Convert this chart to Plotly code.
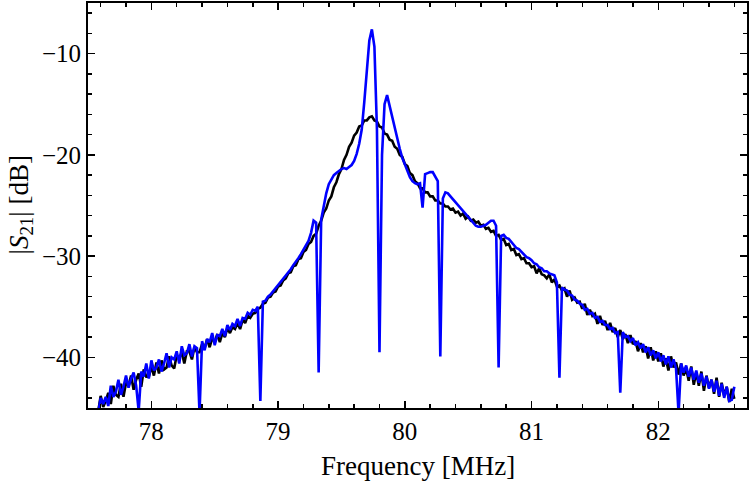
import plotly.graph_objects as go

# Sweep frequencies (MHz)
freq_mhz = [
    77.58, 77.60, 77.62, 77.64, 77.66, 77.68, 77.70, 77.72, 77.74, 77.76,
    77.78, 77.80, 77.82, 77.84, 77.86, 77.88, 77.90, 77.92, 77.94, 77.96,
    77.98, 78.00, 78.02, 78.04, 78.06, 78.08, 78.10, 78.12, 78.14, 78.16,
    78.18, 78.20, 78.22, 78.24, 78.26, 78.28, 78.30, 78.32, 78.34, 78.36,
    78.38, 78.40, 78.42, 78.44, 78.46, 78.48, 78.50, 78.52, 78.54, 78.56,
    78.58, 78.60, 78.62, 78.64, 78.66, 78.68, 78.70, 78.72, 78.74, 78.76,
    78.78, 78.80, 78.82, 78.84, 78.86, 78.88, 78.90, 78.92, 78.94, 78.96,
    78.98, 79.00, 79.02, 79.04, 79.06, 79.08, 79.10, 79.12, 79.14, 79.16,
    79.18, 79.20, 79.22, 79.24, 79.26, 79.28, 79.30, 79.32, 79.34, 79.36,
    79.38, 79.40, 79.42, 79.44, 79.46, 79.48, 79.50, 79.52, 79.54, 79.56,
    79.58, 79.60, 79.62, 79.64, 79.66, 79.68, 79.70, 79.72, 79.74, 79.76,
    79.78, 79.80, 79.82, 79.84, 79.86, 79.88, 79.90, 79.92, 79.94, 79.96,
    79.98, 80.00, 80.02, 80.04, 80.06, 80.08, 80.10, 80.12, 80.14, 80.16,
    80.18, 80.20, 80.22, 80.24, 80.26, 80.28, 80.30, 80.32, 80.34, 80.36,
    80.38, 80.40, 80.42, 80.44, 80.46, 80.48, 80.50, 80.52, 80.54, 80.56,
    80.58, 80.60, 80.62, 80.64, 80.66, 80.68, 80.70, 80.72, 80.74, 80.76,
    80.78, 80.80, 80.82, 80.84, 80.86, 80.88, 80.90, 80.92, 80.94, 80.96,
    80.98, 81.00, 81.02, 81.04, 81.06, 81.08, 81.10, 81.12, 81.14, 81.16,
    81.18, 81.20, 81.22, 81.24, 81.26, 81.28, 81.30, 81.32, 81.34, 81.36,
    81.38, 81.40, 81.42, 81.44, 81.46, 81.48, 81.50, 81.52, 81.54, 81.56,
    81.58, 81.60, 81.62, 81.64, 81.66, 81.68, 81.70, 81.72, 81.74, 81.76,
    81.78, 81.80, 81.82, 81.84, 81.86, 81.88, 81.90, 81.92, 81.94, 81.96,
    81.98, 82.00, 82.02, 82.04, 82.06, 82.08, 82.10, 82.12, 82.14, 82.16,
    82.18, 82.20, 82.22, 82.24, 82.26, 82.28, 82.30, 82.32, 82.34, 82.36,
    82.38, 82.40, 82.42, 82.44, 82.46, 82.48, 82.50, 82.52, 82.54, 82.56,
    82.58, 82.60,
]

# Black trace |S21| (dB)
s21_black_db = [
    -45.4, -43.8, -44.9, -44.3, -43.5, -44.6, -42.8, -43.7, -43.9, -42.6,
    -43.9, -42.5, -42.8, -41.8, -43.2, -42.2, -41.6, -42.9, -41.2, -41.9,
    -41.9, -40.9, -41.8, -40.5, -41.6, -40.3, -41.2, -41.0, -39.9, -40.8,
    -41.1, -39.8, -40.1, -39.5, -40.6, -39.4, -39.4, -40.2, -39.0, -39.5,
    -39.5, -38.7, -39.1, -38.2, -39.0, -38.1, -38.5, -37.7, -38.5, -37.6,
    -38.0, -37.1, -37.6, -37.0, -37.2, -36.6, -37.2, -36.3, -36.6, -35.9,
    -36.1, -35.7, -35.6, -35.2, -35.1, -34.7, -34.6, -34.1, -34.0, -33.6,
    -33.5, -33.0, -32.9, -32.4, -32.2, -31.7, -31.6, -31.0, -30.9, -30.3,
    -30.2, -29.6, -29.4, -28.8, -28.6, -28.0, -27.8, -27.0, -26.5, -25.7,
    -25.3, -24.5, -24.1, -23.2, -22.7, -21.9, -21.4, -20.5, -20.0, -19.2,
    -18.8, -18.1, -17.8, -17.2, -17.1, -16.6, -16.6, -16.3, -16.2, -16.6,
    -16.7, -17.2, -17.3, -17.9, -18.0, -18.5, -18.6, -19.2, -19.4, -20.0,
    -20.2, -20.9, -21.1, -21.8, -22.0, -22.6, -22.8, -23.3, -23.3, -23.7,
    -23.7, -24.1, -24.1, -24.5, -24.5, -24.8, -24.8, -25.1, -25.1, -25.4,
    -25.3, -25.7, -25.6, -26.0, -25.8, -26.3, -26.1, -26.5, -26.4, -26.7,
    -26.6, -27.0, -26.9, -27.3, -27.2, -27.6, -27.5, -28.0, -27.9, -28.4,
    -28.3, -28.9, -28.8, -29.4, -29.3, -29.9, -29.8, -30.3, -30.2, -30.7,
    -30.7, -31.1, -31.0, -31.7, -31.2, -31.8, -31.9, -32.2, -31.8, -32.6,
    -32.3, -33.0, -32.9, -33.4, -33.2, -34.0, -33.4, -34.3, -34.1, -34.6,
    -34.5, -35.2, -34.7, -35.8, -35.3, -35.9, -35.7, -36.7, -35.9, -36.8,
    -36.4, -37.3, -36.6, -37.5, -37.1, -38.0, -37.3, -38.2, -37.7, -38.6,
    -37.8, -38.7, -38.4, -39.4, -38.6, -39.5, -38.9, -40.1, -39.0, -40.3,
    -39.4, -40.4, -39.6, -40.9, -40.1, -41.3, -39.9, -41.0, -40.5, -41.7,
    -40.6, -41.8, -41.1, -42.3, -40.9, -42.7, -41.5, -42.8, -41.4, -43.3,
    -41.8, -43.0, -42.2, -43.6, -42.0, -43.9, -42.5, -43.8, -42.9, -44.4,
    -43.1, -44.1,
]

# Blue trace |S21| (dB)
s21_blue_db = [
    -45.5, -44.0, -44.6, -43.9, -44.8, -42.8, -43.9, -43.4, -42.2, -43.7,
    -42.9, -41.8, -43.0, -42.1, -41.5, -42.8, -45.3, -41.4, -41.9, -40.6,
    -42.1, -40.3, -41.3, -41.0, -40.2, -41.4, -40.6, -39.6, -41.0, -40.0,
    -40.2, -39.4, -40.6, -38.9, -39.8, -39.6, -38.7, -39.9, -38.9, -39.1,
    -45.5, -38.4, -39.3, -38.2, -38.5, -37.6, -38.8, -37.8, -37.9, -37.2,
    -37.9, -36.8, -37.3, -36.7, -36.9, -36.2, -36.9, -36.1, -36.2, -35.6,
    -35.8, -35.3, -35.4, -35.0, -44.3, -34.5, -34.4, -34.0, -33.8, -33.5,
    -33.2, -32.8, -32.6, -32.2, -31.9, -31.6, -31.3, -30.9, -30.6, -30.2,
    -29.8, -29.4, -28.9, -28.5, -27.7, -26.5, -26.7, -41.5, -26.4, -25.0,
    -23.8, -22.9, -22.4, -22.0, -21.8, -21.6, -21.4, -21.3, -21.4, -21.2,
    -21.0, -20.6, -19.9, -18.9, -17.5, -14.8, -11.6, -8.7, -7.6, -9.3,
    -17.5, -39.5, -20.0, -15.0, -14.1, -15.2, -16.3, -17.4, -18.4, -19.4,
    -20.3, -21.0, -21.6, -22.2, -22.6, -22.8, -22.9, -22.8, -25.2, -21.9,
    -21.8, -21.7, -21.7, -22.2, -22.6, -39.9, -24.3, -23.7, -23.8, -24.1,
    -24.4, -24.7, -25.0, -25.3, -25.6, -25.9, -26.2, -26.5, -26.8, -27.0,
    -27.1, -27.1, -27.0, -26.9, -26.7, -26.5, -26.5, -27.0, -41.0, -28.0,
    -27.9, -28.2, -28.3, -28.6, -28.9, -29.2, -29.3, -29.6, -29.8, -30.1,
    -30.2, -30.4, -30.7, -30.8, -31.1, -31.2, -31.5, -31.5, -31.7, -31.8,
    -31.9, -32.6, -42.0, -33.1, -33.3, -33.4, -33.8, -33.9, -34.3, -34.4,
    -34.7, -34.8, -35.3, -35.2, -35.7, -35.6, -36.1, -36.0, -36.5, -36.4,
    -36.8, -36.8, -37.2, -37.1, -37.6, -37.5, -43.5, -37.5, -38.0, -37.9,
    -38.4, -38.1, -38.8, -38.5, -39.1, -38.7, -39.5, -39.0, -39.8, -39.3,
    -40.1, -39.5, -40.4, -39.8, -40.7, -39.9, -41.0, -40.2, -41.1, -45.5,
    -40.6, -41.5, -40.8, -41.9, -41.0, -42.2, -41.3, -42.5, -41.6, -42.8,
    -41.9, -43.1, -42.2, -43.4, -42.3, -43.8, -42.6, -44.0, -42.9, -44.3,
    -44.2, -42.9,
]

x_tick_vals = [78, 79, 80, 81, 82]
y_tick_vals = [-40, -30, -20, -10]
x_range = [77.5, 82.7]
y_range = [-45, -5]

FONT = "Liberation Serif"
TICK_FONT = dict(family=FONT, size=25, color="black")

fig = go.Figure()
fig.add_trace(go.Scatter(x=freq_mhz, y=s21_black_db, mode="lines",
                         line=dict(color="black", width=2.6),
                         showlegend=False, hoverinfo="skip"))
fig.add_trace(go.Scatter(x=freq_mhz, y=s21_blue_db, mode="lines",
                         line=dict(color="#0000ff", width=2.6),
                         showlegend=False, hoverinfo="skip"))

axis_style = dict(
    showline=True, linecolor="black", linewidth=2, mirror="allticks",
    ticks="inside", ticklen=7, tickwidth=1.5, tickcolor="black",
    showgrid=False, zeroline=False, tickfont=TICK_FONT,
)

fig.update_layout(
    width=750, height=484,
    margin=dict(l=88, r=1, t=1, b=76),
    paper_bgcolor="white", plot_bgcolor="white",
    font=dict(family=FONT, size=25, color="black"),
    xaxis=dict(range=x_range, tickmode="array", tickvals=x_tick_vals,
               minor=dict(tickmode="linear", tick0=0, dtick=0.2, ticks="inside",
                          ticklen=4, tickwidth=1.5, tickcolor="black", showgrid=False),
               **axis_style),
    yaxis=dict(range=y_range, tickmode="array", tickvals=y_tick_vals,
               minor=dict(tickmode="linear", tick0=0, dtick=2, ticks="inside",
                          ticklen=4, tickwidth=1.5, tickcolor="black", showgrid=False),
               **axis_style),
    annotations=[
        dict(text="Frequency [MHz]", xref="paper", yref="paper", x=0.5, y=0,
             xanchor="center", yanchor="middle", yshift=-58, showarrow=False,
             font=dict(family=FONT, size=27, color="black")),
        dict(text="|<i>S</i><sub>21</sub>| [dB]", xref="paper", yref="paper",
             x=0, y=0.5, xanchor="center", yanchor="middle", xshift=-68,
             textangle=-90, showarrow=False,
             font=dict(family=FONT, size=27, color="black")),
    ],
)

fig.write_html("out.html",
               config={"displayModeBar": False, "staticPlot": True},
               post_script="document.body.style.margin='0';document.body.style.padding='0';")
